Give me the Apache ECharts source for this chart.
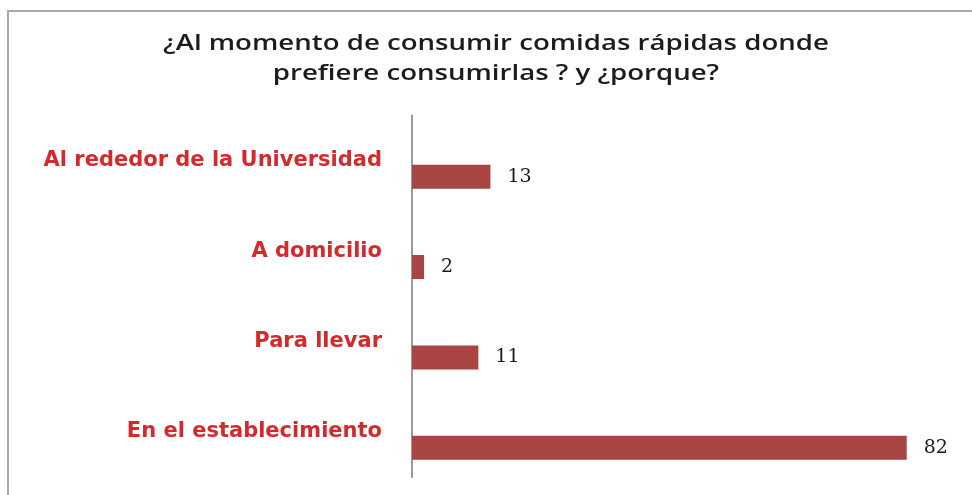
<!DOCTYPE html>
<html>
<head>
<meta charset="utf-8">
<script src="https://cdn.jsdelivr.net/npm/echarts@6/dist/echarts.min.js"></script>
<style>
  html, body { margin: 0; padding: 0; background: #ffffff; }
  #chart { width: 972px; height: 495px; }
</style>
</head>
<body>
<div id="chart"></div>
<script>
// Survey answers: where people prefer to eat fast food
const categories = ['Al rededor de la Universidad', 'A domicilio', 'Para llevar', 'En el establecimiento'];
const values = [13, 2, 11, 82];
const titleText = '¿Al momento de consumir comidas rápidas donde\nprefiere consumirlas ? y ¿porque?';

const chart = echarts.init(document.getElementById('chart'), null, { renderer: 'canvas' });

chart.setOption({
  backgroundColor: '#ffffff',
  animation: false,
  graphic: [
    {
      // frame around the chart area
      type: 'rect',
      shape: { x: 8, y: 11, width: 1000, height: 520 },
      style: { fill: 'none', stroke: '#a8a8a8', lineWidth: 2 },
      silent: true,
      z: -1
    },
    {
      // two-line heading, slightly widened lettering
      type: 'text',
      x: 496,
      y: 29,
      scaleX: 1.255,
      silent: true,
      style: {
        text: titleText,
        fontFamily: 'Open Sans',
        fontSize: 22,
        fontWeight: 600,
        fill: '#1c1c1c',
        lineHeight: 30,
        align: 'center',
        verticalAlign: 'top'
      }
    }
  ],
  grid: {
    left: 412,
    top: 115.5,
    width: 543,
    height: 361.5,
    containLabel: false
  },
  xAxis: {
    type: 'value',
    min: 0,
    max: 90,
    show: false
  },
  yAxis: {
    type: 'category',
    data: categories,
    inverse: true,
    axisLine: { show: true, lineStyle: { color: '#9a9a9a', width: 2 } },
    axisTick: { show: false },
    axisLabel: {
      margin: 30,
      fontFamily: 'DejaVu Sans',
      fontWeight: 'bold',
      fontSize: 21,
      color: '#d42a2e'
    },
    splitLine: { show: false }
  },
  series: [
    {
      // empty companion series: pushes the real bars below the label line
      name: 'spacer',
      type: 'bar',
      data: values.map(() => null),
      barWidth: 24,
      barGap: '33%',
      silent: true,
      itemStyle: { color: 'rgba(0,0,0,0)' }
    },
    {
      name: 'Respuestas',
      type: 'bar',
      data: values,
      barWidth: 24,
      barGap: '33%',
      itemStyle: { color: '#a84543' },
      label: {
        show: true,
        position: 'right',
        distance: 17,
        fontFamily: 'DejaVu Serif',
        fontSize: 19,
        color: '#1a1a1a'
      }
    }
  ]
});
</script>
</body>
</html>
